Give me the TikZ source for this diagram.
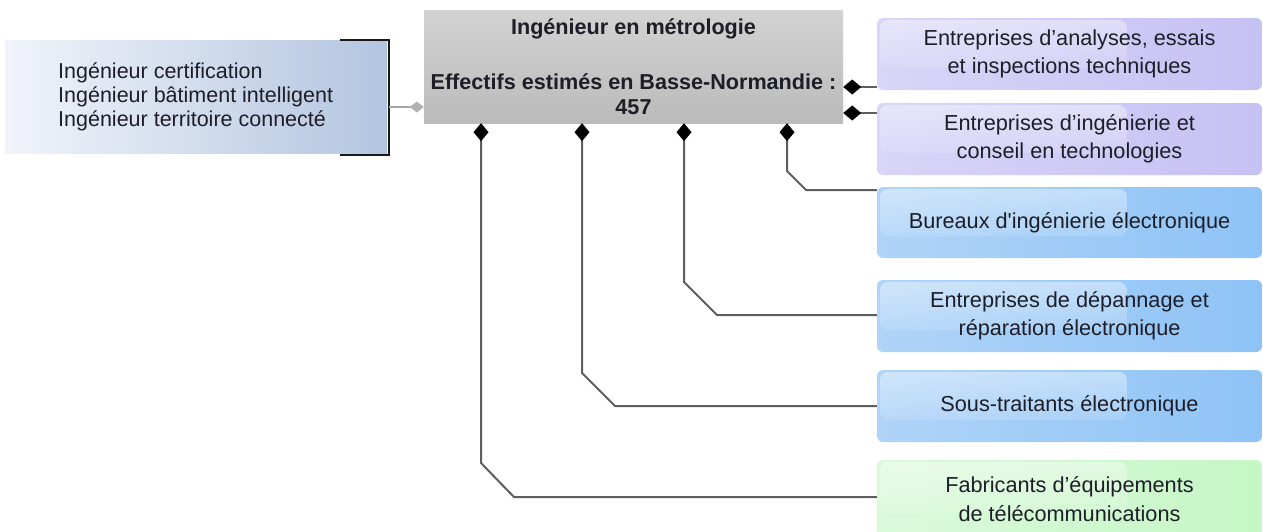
\documentclass[tikz,border=0pt]{standalone}
\usepackage{fontspec}
\setmainfont{Liberation Sans}[Ligatures=TeXOff]
\usetikzlibrary{arrows.meta,fadings,calc}
\definecolor{txt}{HTML}{1E1E28}
\definecolor{linegray}{HTML}{5E5E5E}
\definecolor{lavbase}{HTML}{C6C1F3}
\definecolor{lavlight}{HTML}{D8D5F8}
\definecolor{bluebase}{HTML}{8EC3F6}
\definecolor{bluelight}{HTML}{B0D4F8}
\definecolor{grnbase}{HTML}{C6F6C6}
\definecolor{grnlight}{HTML}{DAFADA}
\definecolor{leftL}{HTML}{F1F4FA}
\definecolor{leftR}{HTML}{B3C5E0}
\definecolor{grayT}{HTML}{D2D2D2}
\definecolor{grayB}{HTML}{BBBBBB}
\tikzset{
  rbox/.style={rectangle, rounded corners=6pt, minimum width=385pt, inner sep=0pt,
    align=center, text=txt, font=\fontsize{21.7}{28.5}\selectfont,
    path picture={\fill[white, fill opacity=0.42, path fading=south, rounded corners=8pt]
      ($(path picture bounding box.north west)+(3pt,-2pt)$) rectangle
      ($(path picture bounding box.west)+(250pt,-14pt)$);}},
  lavbox/.style={rbox, left color=lavlight, right color=lavbase},
  bluebox/.style={rbox, left color=bluelight, right color=bluebase},
  grnbox/.style={rbox, left color=grnlight, right color=grnbase},
  cbox/.style={rectangle, minimum width=419pt, minimum height=113pt, inner sep=0pt,
    top color=grayT, bottom color=grayB, align=center, text=txt,
    font=\bfseries\fontsize{21.6}{25}\selectfont},
  lbox/.style={rectangle, minimum width=382pt, minimum height=113pt, inner sep=0pt,
    left color=leftL, right color=leftR},
  ltext/.style={inner sep=0pt, align=left, text=txt, font=\fontsize{21.5}{24}\selectfont},
  conn/.style={draw=linegray, line width=2pt,
    arrows={Diamond[length=18pt,width=15pt,black]-}},
  gconn/.style={draw=black!35, line width=1.5pt,
    arrows={Diamond[length=14pt,width=11pt,black!30]-}},
  bracketline/.style={draw=black!90, line width=2.5pt}
}
\begin{document}
\begin{tikzpicture}[x=1pt,y=-1pt]
\useasboundingbox[fill=white] (0,0) rectangle (1263,531);

% left box
\node[lbox] (l) at (196,96.5) {};
\node[ltext, anchor=west] (lt) at (58,97) {Ingénieur certification\\Ingénieur bâtiment intelligent\\Ingénieur territoire connecté};
\draw[bracketline] (340,40) -- (389,40) -- (389,155) -- (340,155);
\coordinate (brk) at (389,107);

% center box
\node[cbox] (c) at (633.5,66.5) {Ingénieur en métrologie\\[30pt]Effectifs estimés en Basse-Normandie :\\457};

% right boxes
\node[lavbox, minimum height=72pt] (b1) at (1069.5,54) {Entreprises d’analyses, essais\\et inspections techniques};
\node[lavbox, minimum height=72pt] (b2) at (1069.5,139) {Entreprises d’ingénierie et\\conseil en technologies};
\node[bluebox, minimum height=71pt] (b3) at (1069.5,222.5) {Bureaux d'ingénierie électronique};
\node[bluebox, minimum height=72pt] (b4) at (1069.5,316) {Entreprises de dépannage et\\réparation électronique};
\node[bluebox, minimum height=72pt] (b5) at (1069.5,406) {Sous-traitants électronique};
\node[grnbox, minimum height=78pt] (b6) at (1069.5,499) {Fabricants d’équipements\\de télécommunications};

% connectors
\draw[gconn] (c.west |- brk) -- (brk);
\draw[conn] (c.east |- 0,87) -- (b1.west |- 0,87);
\draw[conn] (c.east |- 0,113) -- (b2.west |- 0,113);
\draw[conn] (c.south -| 787,0) -- (787,171) -- (806,190) -- (b3.west |- 0,190);
\draw[conn] (c.south -| 684,0) -- (684,282) -- (717,315) -- (b4.west |- 0,315);
\draw[conn] (c.south -| 582,0) -- (582,373) -- (615,406) -- (b5.west |- 0,406);
\draw[conn] (c.south -| 481,0) -- (481,463) -- (514,497) -- (b6.west |- 0,497);
\end{tikzpicture}
\end{document}
